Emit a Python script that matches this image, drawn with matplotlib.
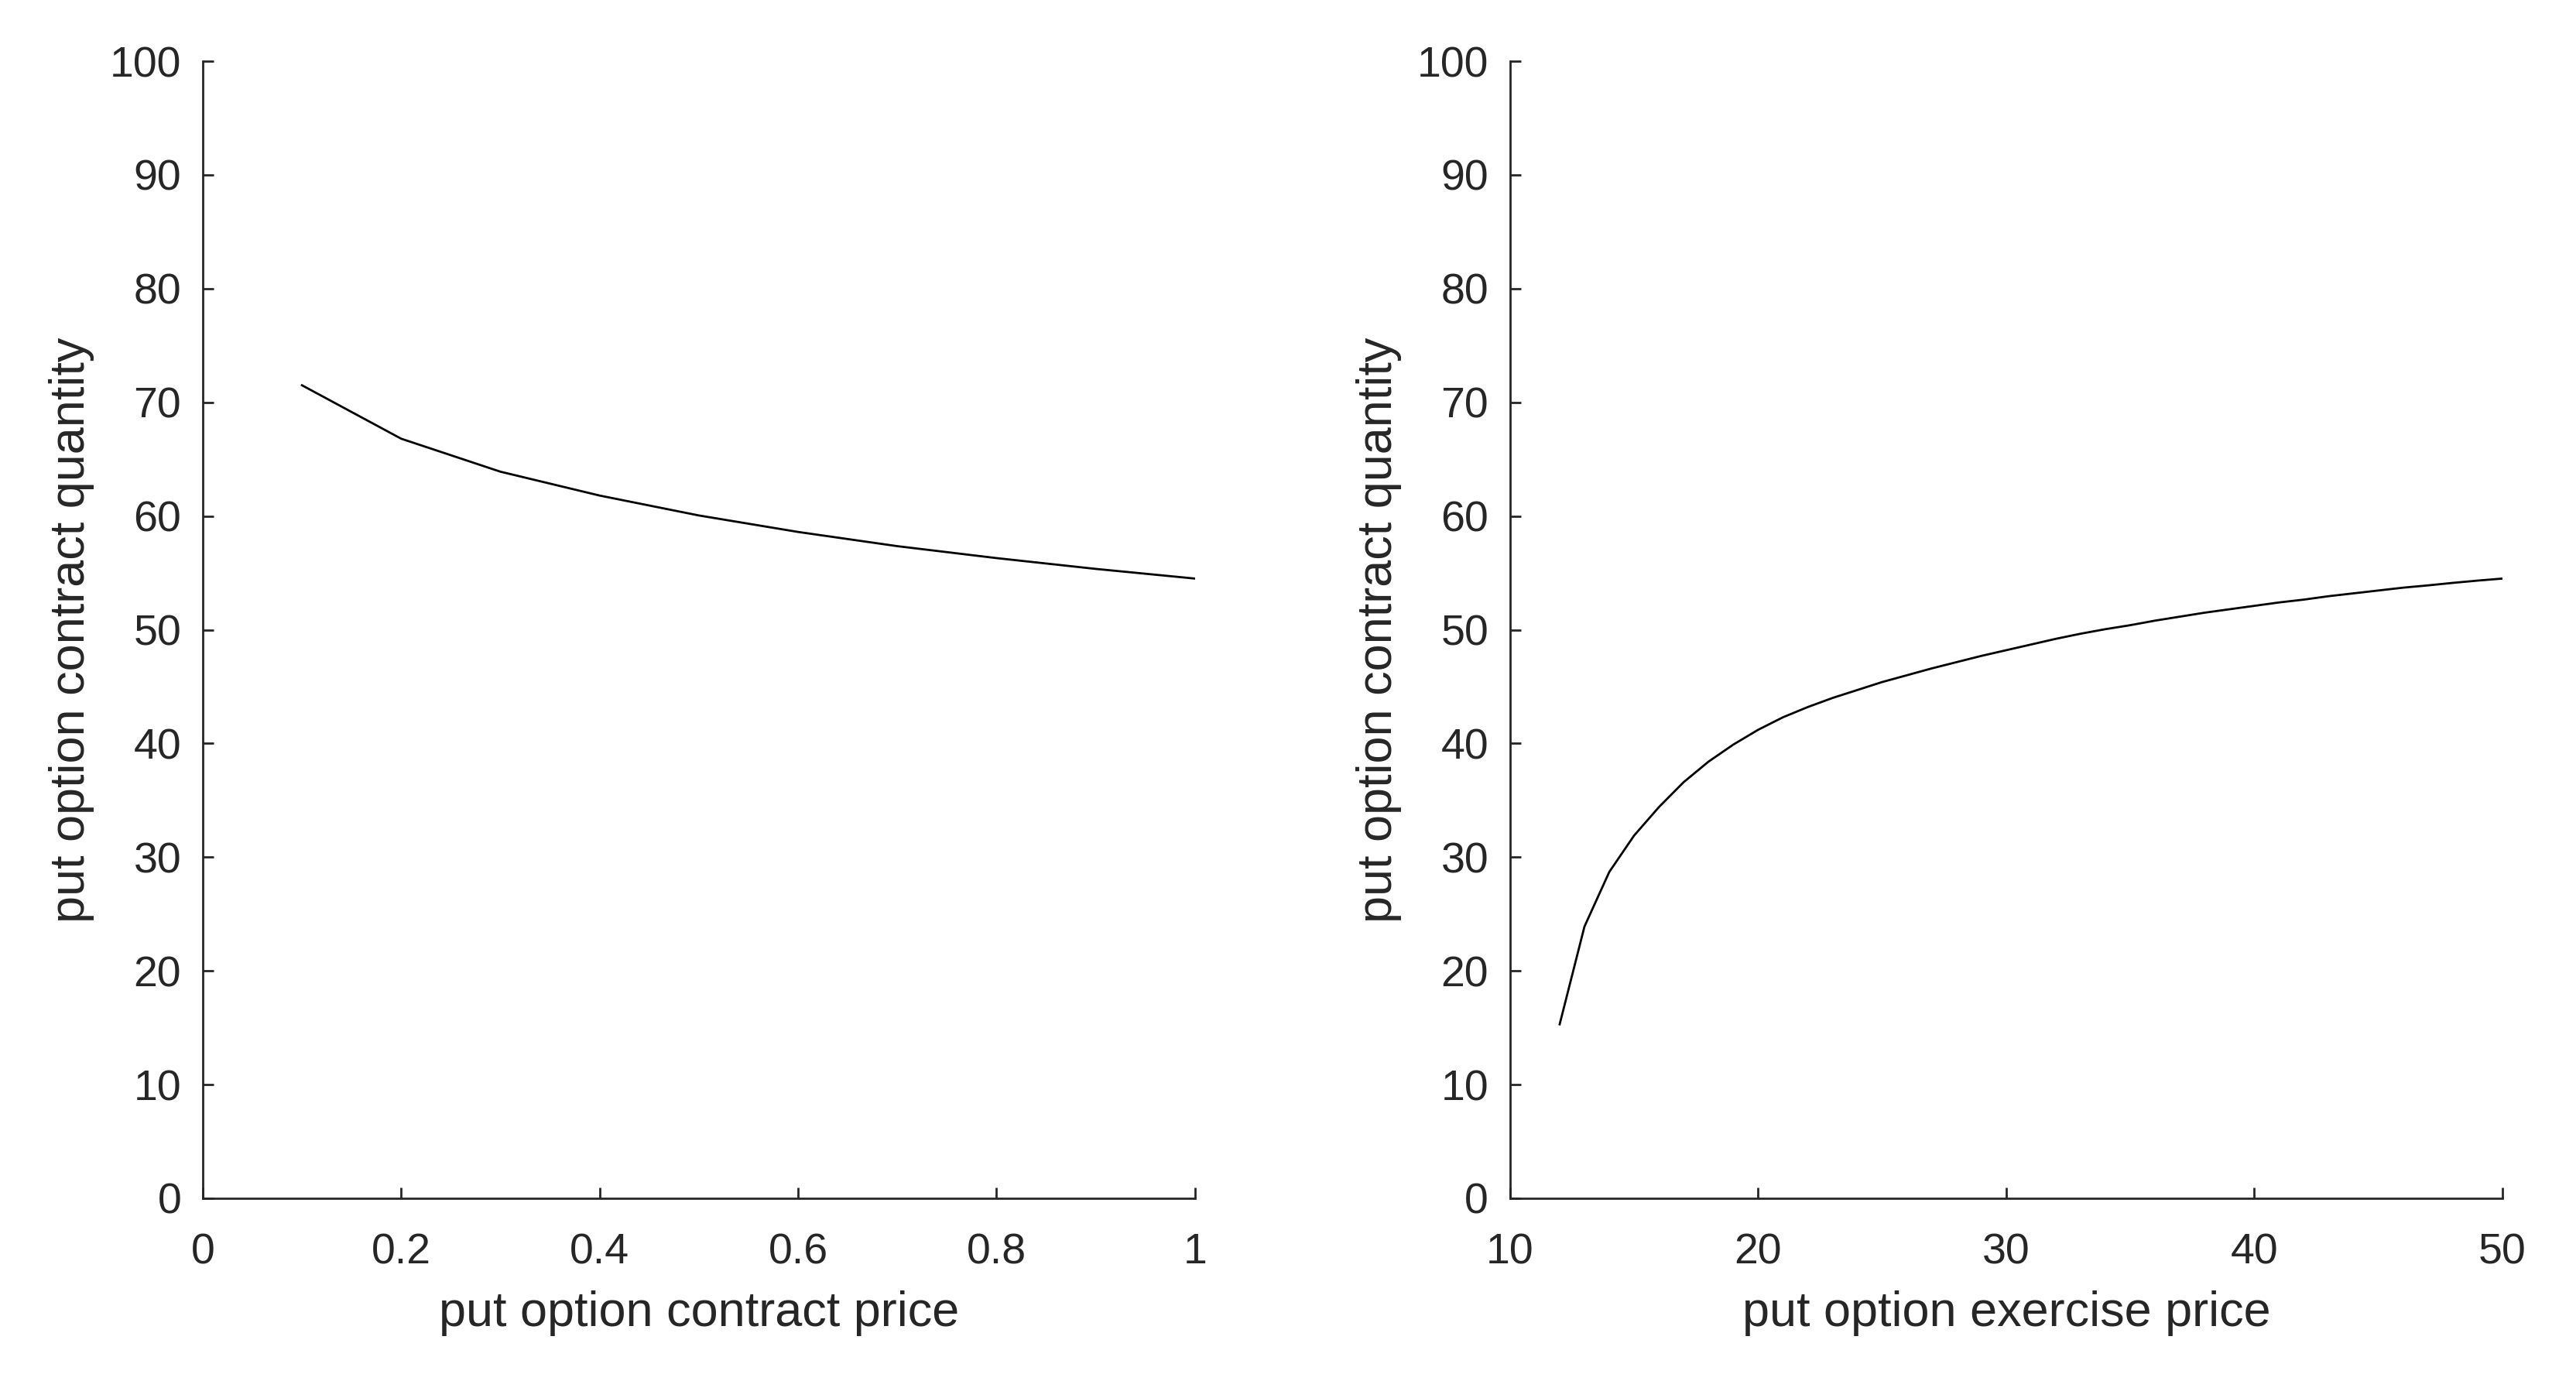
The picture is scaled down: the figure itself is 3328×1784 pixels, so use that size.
import matplotlib
matplotlib.use("Agg")
import matplotlib.pyplot as plt

# ---- data ----
contract_price = [0.1, 0.2, 0.3, 0.4, 0.5, 0.6, 0.7, 0.8, 0.9, 1.0]
qty_vs_price = [71.5, 66.8, 63.9, 61.8, 60.05, 58.6, 57.35, 56.3, 55.35, 54.5]

exercise_price = list(range(12, 51))
qty_vs_exercise = [15.3, 23.9, 28.7, 31.9, 34.4, 36.6, 38.4, 39.9, 41.2, 42.3,
                   43.2, 44.0, 44.7, 45.4, 46.0, 46.6, 47.15, 47.7, 48.2, 48.7,
                   49.2, 49.65, 50.05, 50.4, 50.8, 51.15, 51.5, 51.8, 52.1, 52.4,
                   52.65, 52.95, 53.2, 53.45, 53.7, 53.9, 54.12, 54.32, 54.5]

left_xticks = [0, 0.2, 0.4, 0.6, 0.8, 1]
left_xticklabels = ["0", "0.2", "0.4", "0.6", "0.8", "1"]
right_xticks = [10, 20, 30, 40, 50]
yticks = list(range(0, 101, 10))

xlabel_left = "put option contract price"
xlabel_right = "put option exercise price"
ylabel = "put option contract quantity"

# ---- style ----
plt.rcParams['font.family'] = ['Liberation Sans', 'DejaVu Sans']
GRAY = '#262626'
TICK_FS = 20.0
LABEL_FS = 22.7

fig = plt.figure(figsize=(16.64, 8.92), dpi=200)
ax1 = fig.add_axes([0.0787, 0.1323, 0.3852, 0.8234])
ax2 = fig.add_axes([0.5862, 0.1323, 0.3852, 0.8234])

def style(ax):
    for s in ['top', 'right']:
        ax.spines[s].set_visible(False)
    for s in ['left', 'bottom']:
        ax.spines[s].set_color(GRAY)
        ax.spines[s].set_linewidth(1.0)
    ax.tick_params(direction='in', length=5, width=1.0, colors=GRAY,
                   labelsize=TICK_FS, labelcolor=GRAY)
    ax.tick_params(axis='x', pad=16)
    ax.tick_params(axis='y', pad=10)
    ax.set_ylim(0, 100)
    ax.set_yticks(yticks)
    ax.set_ylabel(ylabel, fontsize=LABEL_FS, color=GRAY, labelpad=7)

ax1.plot(contract_price, qty_vs_price, color='black', linewidth=1.0)
ax1.set_xlim(0, 1)
ax1.set_xticks(left_xticks)
ax1.set_xticklabels(left_xticklabels)
style(ax1)
ax1.set_xlabel(xlabel_left, fontsize=LABEL_FS, color=GRAY, labelpad=8)

ax2.plot(exercise_price, qty_vs_exercise, color='black', linewidth=1.0)
ax2.set_xlim(10, 50)
ax2.set_xticks(right_xticks)
style(ax2)
ax2.set_xlabel(xlabel_right, fontsize=LABEL_FS, color=GRAY, labelpad=8)

fig.savefig("out.png", dpi=200, facecolor='white')
